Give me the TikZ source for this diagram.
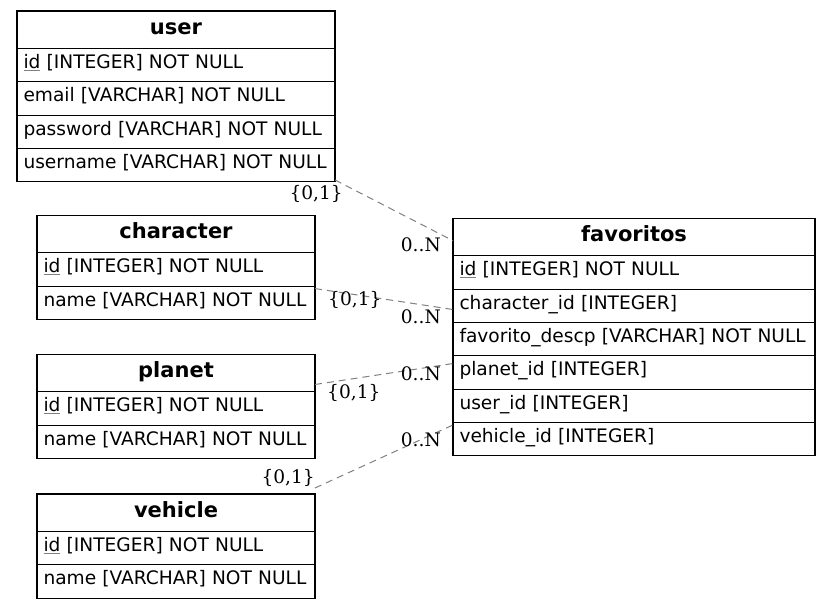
\documentclass[tikz,border=0pt]{standalone}
\usepackage{fontspec}
\setmainfont{DejaVu Sans}
\newfontfamily\lblfont{DejaVu Serif}
\newcommand\pkey[1]{{\color{gray}\underline{\color{black}#1}}}
\begin{document}
\begin{tikzpicture}[x=1pt,y=-1pt,
  tbl/.style={draw=black, line width=1.1pt, anchor=north west, inner xsep=6.5pt, inner ysep=0pt, outer sep=0pt},
  hdr/.style={tbl, minimum height=37.4pt, text height=16pt, text depth=7.4pt, align=center, font=\fontsize{21}{25}\selectfont\bfseries},
  row/.style={tbl, minimum height=33.35pt, text height=14pt, text depth=7.4pt, align=left, font=\fontsize{18.6}{22}\selectfont},
  rel/.style={draw=gray, line width=1pt, dash pattern=on 7pt off 5pt},
  card/.style={font=\lblfont\fontsize{18.6}{22}\selectfont, inner sep=0pt}]
\useasboundingbox (0,0) rectangle (831,608);

% user
\node[hdr, text width=305pt] (user-h) at (17,11) {user};
\node[row, text width=305pt] (user-r1) at (user-h.south west) {\pkey{id} [INTEGER] NOT NULL};
\node[row, text width=305pt] (user-r2) at (user-r1.south west) {email [VARCHAR] NOT NULL};
\node[row, text width=305pt] (user-r3) at (user-r2.south west) {password [VARCHAR] NOT NULL};
\node[row, text width=305pt] (user-r4) at (user-r3.south west) {username [VARCHAR] NOT NULL};

% character
\node[hdr, text width=265pt] (char-h) at (37,215.5) {character};
\node[row, text width=265pt] (char-r1) at (char-h.south west) {\pkey{id} [INTEGER] NOT NULL};
\node[row, text width=265pt] (char-r2) at (char-r1.south west) {name [VARCHAR] NOT NULL};

% planet
\node[hdr, text width=265pt] (planet-h) at (37,354.5) {planet};
\node[row, text width=265pt] (planet-r1) at (planet-h.south west) {\pkey{id} [INTEGER] NOT NULL};
\node[row, text width=265pt] (planet-r2) at (planet-r1.south west) {name [VARCHAR] NOT NULL};

% vehicle
\node[hdr, text width=265pt] (veh-h) at (37,494) {vehicle};
\node[row, text width=265pt] (veh-r1) at (veh-h.south west) {\pkey{id} [INTEGER] NOT NULL};
\node[row, text width=265pt] (veh-r2) at (veh-r1.south west) {name [VARCHAR] NOT NULL};

% favoritos
\node[hdr, text width=349pt] (fav-h) at (453,218.3) {favoritos};
\node[row, text width=349pt] (fav-r1) at (fav-h.south west) {\pkey{id} [INTEGER] NOT NULL};
\node[row, text width=349pt] (fav-r2) at (fav-r1.south west) {character\_id [INTEGER]};
\node[row, text width=349pt] (fav-r3) at (fav-r2.south west) {favorito\_descp [VARCHAR] NOT NULL};
\node[row, text width=349pt] (fav-r4) at (fav-r3.south west) {planet\_id [INTEGER]};
\node[row, text width=349pt] (fav-r5) at (fav-r4.south west) {user\_id [INTEGER]};
\node[row, text width=349pt] (fav-r6) at (fav-r5.south west) {vehicle\_id [INTEGER]};

% relations
\draw[rel] ([yshift=1.8pt]user-r4.south east) -- ([yshift=15pt]fav-h.south west);
\draw[rel] ([yshift=-2.3pt]char-r2.north east) -- ([yshift=-3.8pt]fav-r2.west);
\draw[rel] ([yshift=-11.3pt]planet-h.east) -- ([yshift=8.9pt]fav-r4.west);
\draw[rel] ([yshift=6pt]veh-h.north east) -- ([yshift=-2.5pt]fav-r6.north west);

% cardinalities
\node[card, anchor=base east] (c-u1) at (343,199) {\{0,1\}};
\node[card, anchor=base east] (c-u2) at (441,251.7) {0..N};
\node[card, anchor=base west] (c-c1) at (328,305) {\{0,1\}};
\node[card, anchor=base east] (c-c2) at (441,323.3) {0..N};
\node[card, anchor=base west] (c-p1) at (327,398) {\{0,1\}};
\node[card, anchor=base east] (c-p2) at (441,380.7) {0..N};
\node[card, anchor=base east] (c-v1) at (315,483) {\{0,1\}};
\node[card, anchor=base east] (c-v2) at (441,446) {0..N};
\end{tikzpicture}
\end{document}
